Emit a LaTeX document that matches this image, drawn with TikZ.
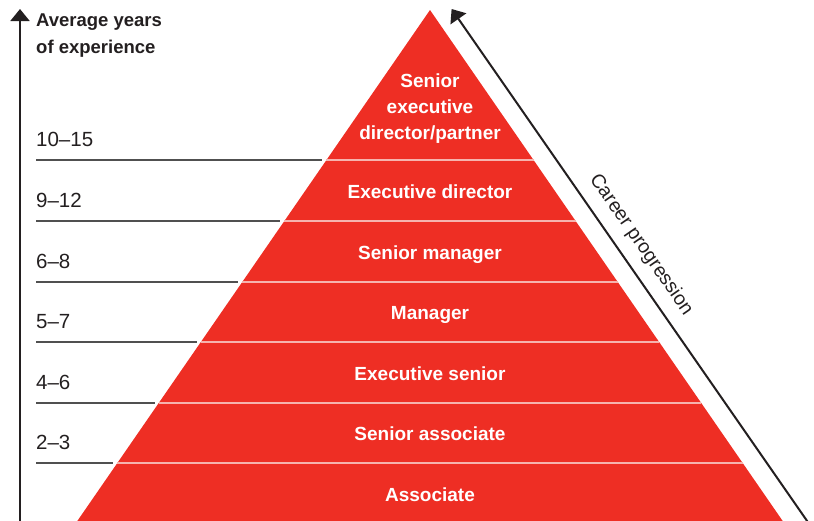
\documentclass[tikz,border=0pt]{standalone}
\usepackage{fontspec}
\setmainfont{Liberation Sans}
\usetikzlibrary{arrows.meta}
\definecolor{pyred}{HTML}{EE2E24}
\definecolor{seppink}{HTML}{F6B3AE}
\definecolor{ink}{HTML}{231F20}
\definecolor{rulegrey}{HTML}{505050}
\begin{document}
\begin{tikzpicture}[x=1pt,y=-1pt,
  bandlabel/.style={text=white,font=\bfseries\fontsize{19}{26}\selectfont,anchor=base,inner sep=0pt,align=center},
  yearlabel/.style={text=ink,font=\fontsize{20.5}{24}\selectfont,anchor=base west,inner sep=0pt},
  headlabel/.style={text=ink,font=\bfseries\fontsize{18.5}{26.5}\selectfont,anchor=base west,inner sep=0pt,align=left},
  axisarrow/.style={draw=ink,line width=2pt,-{Triangle[width=19pt,length=12pt]}},
  seprule/.style={draw=seppink,line width=1.5pt},
  leftrule/.style={draw=rulegrey,line width=1.6pt}]
\useasboundingbox (0,0) rectangle (814,520);
% pyramid
\coordinate (apex) at (430,10);
\coordinate (bl) at ({430-0.6902*514},524);
\coordinate (br) at ({430+0.6902*514},524);
\fill[pyred] (apex) -- (br) -- (bl) -- cycle;
% band separators, left rules and year labels
\foreach \i/\yy/\lab in {0/160/10–15,1/221/9–12,2/282/6–8,3/342/5–7,4/403/4–6,5/463/2–3}{
  \pgfmathsetmacro\xl{430-0.6902*(\yy-10)}
  \pgfmathsetmacro\xr{430+0.6902*(\yy-10)}
  \coordinate (sl\i) at (\xl,\yy);
  \coordinate (sr\i) at (\xr,\yy);
  \coordinate (gl\i) at (36,\yy);
  \coordinate (gr\i) at (\xl-4,\yy);
  \path[seprule] (sl\i) -- (sr\i);
  \path[leftrule] (gl\i) -- (gr\i);
  \node[yearlabel] (yr\i) at (36,\yy-14) {\lab};
}
% band labels
\node[bandlabel] (b0) at (430,139.3) {Senior\\executive\\director/partner};
\foreach \i/\lab in {1/Executive director,2/Senior manager,3/Manager,4/Executive senior,5/Senior associate,6/Associate}{
  \pgfmathsetmacro\yb{160.5+60.6*(\i-1)+30.3+7.6}
  \node[bandlabel] (b\i) at (430,\yb) {\lab};
}
% vertical axis
\coordinate (axbot) at (20,524);
\coordinate (axtop) at (20,9);
\draw[axisarrow] (axbot) -- (axtop);
\node[headlabel] (head) at (36,53.3) {Average years\\of experience};
% career progression arrow
\coordinate (cpbot) at (809.2,524);
\coordinate (cptop) at (451.6,9);
\draw[axisarrow] (cpbot) -- (cptop);
\node[text=ink,font=\fontsize{19.5}{24}\selectfont,anchor=base,inner sep=0pt,rotate=-55.3] (cp) at (636.9,247.8) {Career progression};
\end{tikzpicture}
\end{document}
